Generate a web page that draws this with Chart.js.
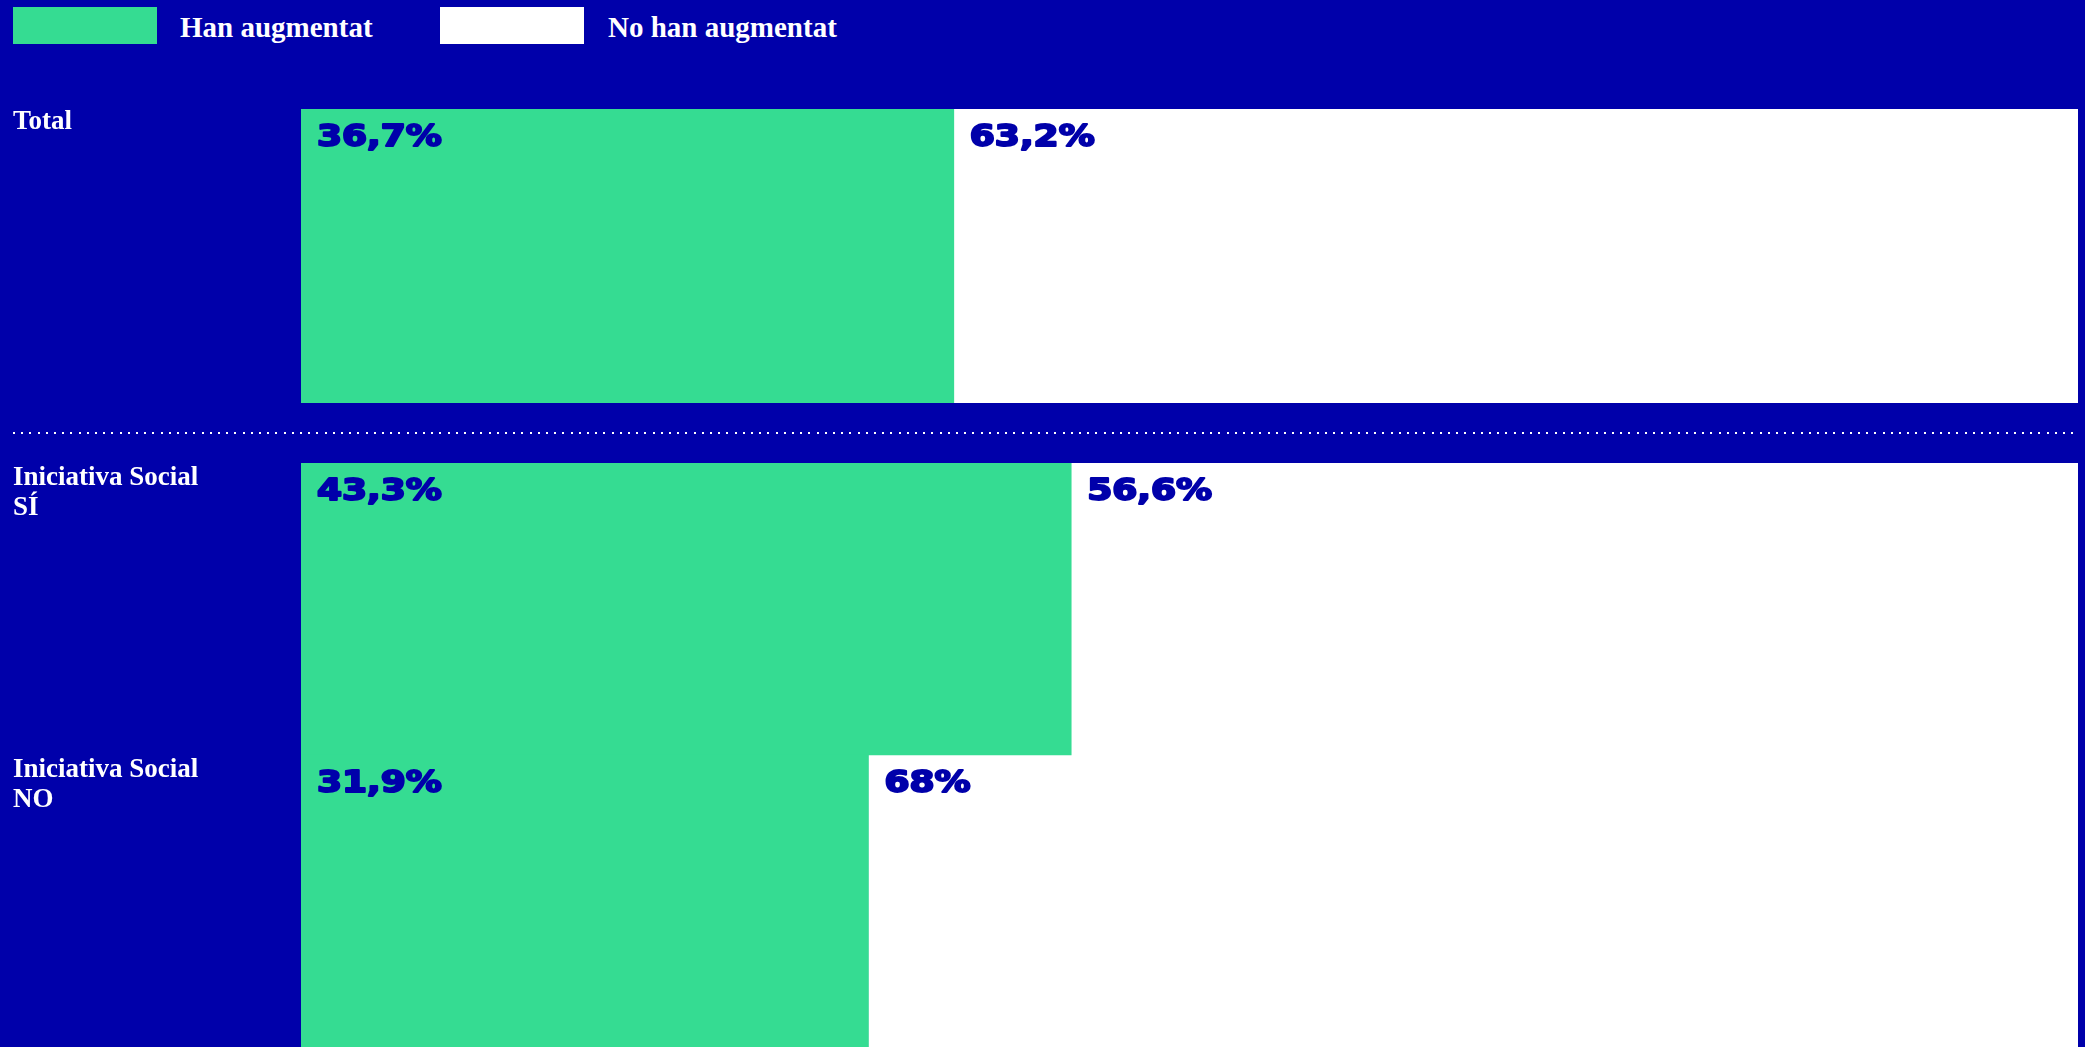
<!DOCTYPE html>
<html lang="ca">
<head>
  <meta charset="UTF-8">
  <title>Han augmentat / No han augmentat</title>
  <script src="https://cdn.jsdelivr.net/npm/chart.js"></script>
  <style>
    body {
      margin: 0;
      background-color: #0000aa;
      width: 2085px;
      height: 1047px;
      overflow: hidden;
      position: relative;
      font-family: "Liberation Serif", serif;
    }
    .legend-box {
      position: absolute;
      top: 7px;
      width: 144px;
      height: 37px;
    }
    .legend-text {
      position: absolute;
      top: 7px;
      color: #ffffff;
      font-weight: bold;
      font-size: 29px;
      line-height: 40px;
      white-space: nowrap;
    }
    #top-wrap {
      position: absolute;
      left: 0;
      top: 89px;
      width: 2078px;
      height: 314px;
    }
    #bottom-wrap {
      position: absolute;
      left: 0;
      top: 443px;
      width: 2078px;
      height: 604px;
    }
    #divider {
      position: absolute;
      left: 13px;
      top: 432px;
      width: 2066px;
      height: 2px;
      background-image: repeating-linear-gradient(to right, #ffffff 0 2px, transparent 2px 8.2px);
    }
  </style>
</head>
<body>

  <div id="legend"></div>
  <div id="top-wrap"><canvas id="topChart"></canvas></div>
  <div id="divider"></div>
  <div id="bottom-wrap"><canvas id="bottomChart"></canvas></div>

  <script>
    // data
    const seriesNames = ['Han augmentat', 'No han augmentat'];
    const topCategories = ['Total'];
    const bottomCategories = [['Iniciativa Social', 'SÍ'], ['Iniciativa Social', 'NO']];
    const augmentatTop = [36.7];
    const noAugmentatTop = [63.2];
    const augmentatBottom = [43.3, 31.9];
    const noAugmentatBottom = [56.6, 68];

    const BLUE = '#0000aa';
    const GREEN = '#35dc92';
    const WHITE = '#ffffff';
    const seriesColors = [GREEN, WHITE];

    // legend (html)
    const legendPos = [{ box: 13, text: 180 }, { box: 440, text: 608 }];
    const legendEl = document.getElementById('legend');
    seriesNames.forEach((name, i) => {
      const box = document.createElement('div');
      box.className = 'legend-box';
      box.style.left = legendPos[i].box + 'px';
      box.style.background = seriesColors[i];
      const txt = document.createElement('div');
      txt.className = 'legend-text';
      txt.style.left = legendPos[i].text + 'px';
      txt.textContent = name;
      legendEl.appendChild(box);
      legendEl.appendChild(txt);
    });

    function fmt(v) {
      return String(v).replace('.', ',') + '%';
    }

    // percentage labels inside each bar, top-left
    const valueLabels = {
      id: 'valueLabels',
      afterDatasetsDraw(chart) {
        const ctx = chart.ctx;
        chart.data.datasets.forEach((ds, di) => {
          chart.getDatasetMeta(di).data.forEach((bar, i) => {
            const left = Math.min(bar.base, bar.x);
            const top = bar.y - bar.height / 2;
            ctx.save();
            ctx.translate(left + 16, top + 37);
            ctx.scale(1.2, 1);
            ctx.font = 'bold 30px "DejaVu Sans"';
            ctx.fillStyle = BLUE;
            ctx.strokeStyle = BLUE;
            ctx.lineWidth = 2;
            ctx.lineJoin = 'round';
            ctx.textBaseline = 'alphabetic';
            ctx.textAlign = 'left';
            ctx.strokeText(fmt(ds.data[i]), 0, 0);
            ctx.fillText(fmt(ds.data[i]), 0, 0);
            ctx.restore();
          });
        });
      }
    };

    function makeChart(id, labels, greenData, whiteData, labelOffset) {
      const ctx = document.getElementById(id).getContext('2d');
      return new Chart(ctx, {
        type: 'bar',
        data: {
          labels: labels,
          datasets: [
            {
              label: seriesNames[0],
              data: greenData,
              backgroundColor: GREEN,
              borderWidth: 0,
              barPercentage: 1,
              categoryPercentage: 1
            },
            {
              label: seriesNames[1],
              data: whiteData,
              backgroundColor: WHITE,
              borderWidth: 0,
              barPercentage: 1,
              categoryPercentage: 1
            }
          ]
        },
        options: {
          indexAxis: 'y',
          responsive: true,
          maintainAspectRatio: false,
          animation: false,
          layout: { padding: { left: 13, right: 0, top: 20, bottom: 0 } },
          scales: {
            x: {
              stacked: true,
              display: false,
              min: 0,
              max: 99.9
            },
            y: {
              stacked: true,
              grid: { display: false },
              border: { display: false },
              afterFit: (scale) => {
                scale.width = 288;
                scale.paddingTop = 0;
                scale.paddingBottom = 0;
              },
              ticks: {
                color: WHITE,
                crossAlign: 'far',
                padding: 0,
                labelOffset: labelOffset,
                font: { family: '"Liberation Serif"', weight: 'bold', size: 27, lineHeight: 30 / 27 }
              }
            }
          },
          plugins: {
            legend: { display: false },
            tooltip: { enabled: false }
          }
        },
        plugins: [valueLabels]
      });
    }

    makeChart('topChart', topCategories, augmentatTop, noAugmentatTop, -134);
    makeChart('bottomChart', bottomCategories, augmentatBottom, noAugmentatBottom, -116);
  </script>

</body>
</html>
